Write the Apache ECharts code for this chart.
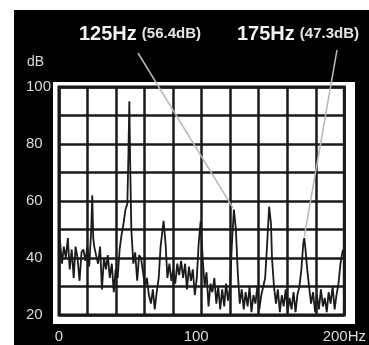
<!DOCTYPE html>
<html><head><meta charset="utf-8">
<script src="https://cdn.jsdelivr.net/npm/echarts@6/dist/echarts.min.js"></script>
<style>
html,body{margin:0;padding:0;background:#fff;width:369px;height:345px;overflow:hidden;}
#panel{position:absolute;left:14px;top:10px;width:355px;height:335px;background:#000;}
#box{position:absolute;left:53px;top:82px;width:302px;height:242px;background:#fff;}
#chart{position:absolute;left:0;top:0;width:369px;height:345px;}
</style></head>
<body>
<div id="panel"></div><div id="box"></div><div id="chart"></div>
<script>
// Frequency (Hz) and level (dB)
const freqHz = [0,0.7,2.1,3.4,4.8,6.2,7.5,8.9,10.3,11.6,13.0,14.4,15.8,17.1,18.5,19.9,21.2,22.6,23.3,24.0,24.7,26.0,27.4,28.8,30.1,31.5,32.9,34.2,35.6,37.0,38.4,39.7,41.1,42.5,43.8,45.2,46.6,47.9,48.6,49.3,50.0,50.7,52.1,53.4,54.8,56.2,57.5,58.9,60.3,61.6,63.0,64.4,65.8,67.1,68.5,69.9,71.2,72.6,73.3,74.7,76.0,77.4,78.8,80.1,81.5,82.9,84.2,85.6,87.0,88.4,89.7,91.1,92.5,93.8,95.2,96.6,97.9,99.3,100.7,102.1,103.4,104.8,106.2,107.5,108.9,110.3,111.6,113.0,114.4,115.8,117.1,118.5,119.9,121.2,122.6,124.0,125.3,126.7,128.1,129.5,130.8,132.2,133.6,134.9,136.3,137.7,139.0,140.4,141.8,143.2,144.5,145.9,147.3,148.6,149.3,150.7,152.1,153.4,154.8,156.2,157.5,158.9,160.3,161.6,163.0,164.4,165.8,167.1,168.5,169.9,171.2,171.9,172.6,174.0,175.3,176.7,178.1,179.5,180.8,182.2,183.6,185.0,186.3,187.7,189.0,190.4,191.8,193.2,194.5,195.9,197.3,198.6,199.3];
const levelDb = [41,46,38,44,40,47,36,43,33,44,40,32,42,43,39,44,37,50,62,47,44,41,38,44,29,40,36,41,33,38,28,36,33,43,48,52,57,59,75,95,70,50,38,42,32,41,40,35,30,33,27,24,29,22,28,33,44,50,53,45,33,38,32,36,31,38,34,39,33,38,29,37,32,36,27,33,45,53,40,30,35,23,31,28,33,24,30,22,29,23,31,25,30,45,57,50,35,24,29,22,28,23,30,21,27,24,30,22,27,30,33,45,58,52,40,30,24,29,21,27,23,29,21,26,22,28,21,27,30,36,45,47,44,36,30,24,28,21,27,22,29,23,26,21,28,24,30,22,27,31,38,42,43];
// Annotations
const notes = [
  {freq: '125Hz', level: '(56.4dB)', at: [122, 57.5]},
  {freq: '175Hz', level: '(47.3dB)', at: [171.9, 47.4]}
];
const xTicks = {0: '0', 100: '{m|100}', 200: '200Hz'};
const yTickStep = 20;

const chart = echarts.init(document.getElementById('chart'), null, {renderer: 'canvas'});
const font = "'Liberation Sans', Arial, sans-serif";
const titleRich = {
  a: {fontSize: 20, fontWeight: 'bold', color: '#f2f2f2', fontFamily: font},
  b: {fontSize: 15, fontWeight: 'bold', color: '#e6e6e6', fontFamily: font}
};
chart.setOption({
  animation: false,
  backgroundColor: 'transparent',
  textStyle: {fontFamily: font},
  title: [
    {text: '{a|' + notes[0].freq + '} {b|' + notes[0].level + '}', left: 79, top: 24, padding: 0, textStyle: {rich: titleRich}},
    {text: '{a|' + notes[1].freq + '} {b|' + notes[1].level + '}', left: 237, top: 24, padding: 0, textStyle: {rich: titleRich}},
    {text: 'dB', left: 27, top: 55, padding: 0, textStyle: {fontSize: 14, fontWeight: 'normal', color: '#dcdcdc', fontFamily: font}}
  ],
  grid: {left: 59, top: 87, width: 292, height: 228, show: true, borderColor: '#111', borderWidth: 3, backgroundColor: 'transparent'},
  xAxis: {
    type: 'value', min: 0, max: 200, interval: 20,
    axisLine: {show: false}, axisTick: {show: false},
    splitLine: {show: true, lineStyle: {color: '#1a1a1a', width: 2.5}},
    axisLabel: {
      margin: 14, color: '#dcdcdc', fontSize: 15, fontFamily: font,
      formatter: v => xTicks[v] || '',
      rich: {m: {fontSize: 15, color: '#dcdcdc', fontFamily: font, padding: [0, 11, 0, 0]}}
    }
  },
  yAxis: {
    type: 'value', min: 20, max: 100, interval: 10,
    axisLine: {show: false}, axisTick: {show: false},
    splitLine: {show: true, lineStyle: {color: '#1a1a1a', width: 2.5}},
    axisLabel: {
      margin: 33, align: 'left', color: '#dcdcdc', fontSize: 15, fontFamily: font,
      formatter: v => (v % yTickStep === 0 ? String(v) : '')
    }
  },
  series: [{
    type: 'line',
    data: freqHz.map((f, i) => [f, levelDb[i]]),
    showSymbol: false,
    lineStyle: {color: '#1a1a1a', width: 1.8},
    z: 3,
    markLine: {
      silent: true, symbol: 'none', animation: false,
      label: {show: false},
      lineStyle: {color: '#b8b8b8', width: 1.5, type: 'solid'},
      data: [
        [{x: 138, y: 53}, {coord: notes[0].at}],
        [{x: 337, y: 50}, {coord: notes[1].at}]
      ]
    }
  }]
});
</script>
</body></html>
